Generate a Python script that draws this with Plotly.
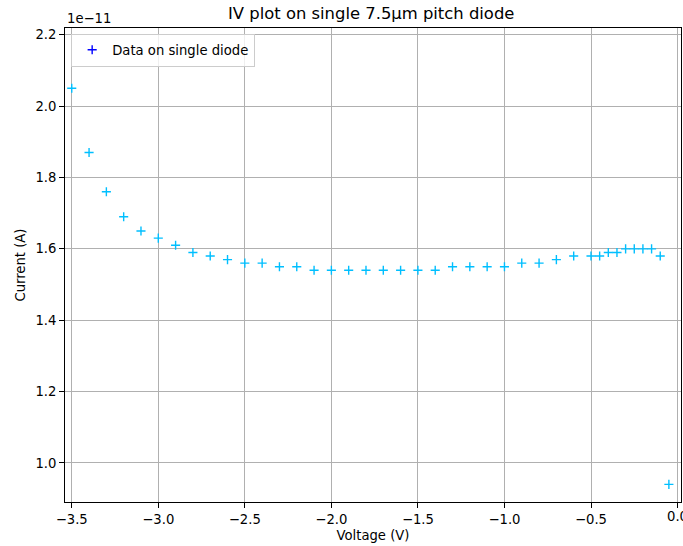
import plotly.graph_objects as go

voltage = [-3.5, -3.4, -3.3, -3.2, -3.1, -3.0, -2.9, -2.8, -2.7, -2.6,
           -2.5, -2.4, -2.3, -2.2, -2.1, -2.0, -1.9, -1.8, -1.7, -1.6,
           -1.5, -1.4, -1.3, -1.2, -1.1, -1.0, -0.9, -0.8, -0.7, -0.6,
           -0.5, -0.45, -0.4, -0.35, -0.3, -0.25, -0.2, -0.15, -0.1, -0.05]
current = [2.05e-11, 1.87e-11, 1.76e-11, 1.69e-11, 1.65e-11, 1.63e-11, 1.61e-11, 1.59e-11, 1.58e-11, 1.57e-11,
           1.56e-11, 1.56e-11, 1.55e-11, 1.55e-11, 1.54e-11, 1.54e-11, 1.54e-11, 1.54e-11, 1.54e-11, 1.54e-11,
           1.54e-11, 1.54e-11, 1.55e-11, 1.55e-11, 1.55e-11, 1.55e-11, 1.56e-11, 1.56e-11, 1.57e-11, 1.58e-11,
           1.58e-11, 1.58e-11, 1.59e-11, 1.59e-11, 1.60e-11, 1.60e-11, 1.60e-11, 1.60e-11, 1.58e-11, 0.94e-11]

x_tickvals = [-3.5, -3.0, -2.5, -2.0, -1.5, -1.0, -0.5, 0.0]
x_ticktext = ["\u22123.5", "\u22123.0", "\u22122.5", "\u22122.0", "\u22121.5", "\u22121.0", "\u22120.5", "0.0"]
y_tickvals = [1.0e-11, 1.2e-11, 1.4e-11, 1.6e-11, 1.8e-11, 2.0e-11, 2.2e-11]
y_ticktext = ["1.0", "1.2", "1.4", "1.6", "1.8", "2.0", "2.2"]

FONT = "DejaVu Sans"
FS = 13.2

fig = go.Figure()
fig.add_trace(go.Scatter(
    x=voltage, y=current, mode="markers",
    marker=dict(symbol="cross-thin", size=6.5, line=dict(color="#00BFFF", width=1.4), color="#00BFFF"),
    showlegend=False, cliponaxis=False,
))
fig.add_trace(go.Scatter(
    x=[None], y=[None], mode="markers", name="Data on single diode",
    marker=dict(symbol="cross-thin", size=6.5, line=dict(color="#0000FF", width=1.4), color="#0000FF"),
))

axis_common = dict(
    showline=True, linecolor="black", linewidth=1, mirror=True,
    ticks="outside", ticklen=5, tickwidth=1, tickcolor="black",
    showgrid=True, gridcolor="#b0b0b0", gridwidth=1, zeroline=False,
    automargin=False,
    tickfont=dict(family=FONT, size=FS, color="black"),
)

# the last x label ("0.0") sits at the right edge; Plotly drops it, so draw it as an annotation
shown_xtext = x_ticktext[:-1] + [""]

fig.update_layout(
    width=683, height=546,
    margin=dict(l=65, r=2, t=28, b=44),
    paper_bgcolor="white", plot_bgcolor="white",
    font=dict(family=FONT, color="black"),
    title=dict(text="IV plot on single 7.5\u00b5m pitch diode", x=0.5435, xanchor="center",
               y=0.975, yanchor="middle", font=dict(family=FONT, size=16.4, color="black")),
    xaxis=dict(range=[-3.539, 0.02], tickvals=x_tickvals, ticktext=shown_xtext,
               title=dict(text="Voltage (V)", font=dict(family=FONT, size=FS), standoff=4),
               **axis_common),
    yaxis=dict(range=[0.8906e-11, 2.219e-11], tickvals=y_tickvals, ticktext=y_ticktext,
               title=dict(text="Current (A)", font=dict(family=FONT, size=FS), standoff=6),
               **axis_common),
    legend=dict(x=0.01, y=0.988, xanchor="left", yanchor="top",
                bgcolor="rgba(255,255,255,0.8)", bordercolor="#cccccc", borderwidth=1,
                font=dict(family=FONT, size=FS, color="black"), itemwidth=30),
    annotations=[
        dict(text="1e\u221211", xref="paper", yref="paper", x=0, y=1.0,
             xanchor="left", yanchor="bottom", showarrow=False,
             font=dict(family=FONT, size=FS, color="black")),
        dict(text=x_ticktext[-1], xref="x", yref="paper", x=x_tickvals[-1], y=0,
             xanchor="center", yanchor="top", yshift=-5, showarrow=False,
             font=dict(family=FONT, size=FS, color="black")),
    ],
)

fig.write_html("out.html", config={"displayModeBar": False},
               post_script="document.body.style.margin='0px';document.body.style.overflow='hidden';")
